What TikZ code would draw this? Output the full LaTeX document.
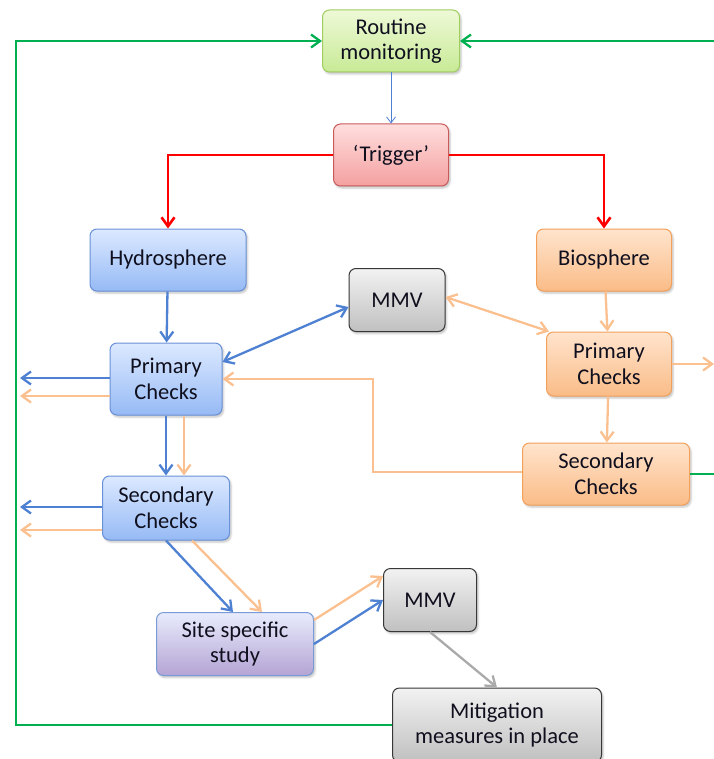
\documentclass[tikz,border=0pt]{standalone}
\usepackage{fontspec}
\setmainfont{Carlito}
\usepackage{xcolor}
\usepackage{tikz}
\usetikzlibrary{positioning, arrows.meta, shadows.blur}

\definecolor{grnTop}{RGB}{238,249,215}
\definecolor{grnBot}{RGB}{200,234,150}
\definecolor{grnLine}{RGB}{160,205,95}
\definecolor{redTop}{RGB}{255,222,222}
\definecolor{redBot}{RGB}{244,160,160}
\definecolor{redLine}{RGB}{200,90,90}
\definecolor{bluTop}{RGB}{220,233,255}
\definecolor{bluBot}{RGB}{150,186,245}
\definecolor{bluLine}{RGB}{105,145,215}
\definecolor{orgTop}{RGB}{255,228,205}
\definecolor{orgBot}{RGB}{250,188,135}
\definecolor{orgLine}{RGB}{242,160,90}
\definecolor{gryTop}{RGB}{242,242,242}
\definecolor{gryBot}{RGB}{192,192,192}
\definecolor{gryLine}{RGB}{55,55,55}
\definecolor{prpTop}{RGB}{232,236,252}
\definecolor{prpBot}{RGB}{180,164,212}
\definecolor{prpLine}{RGB}{120,155,215}
\definecolor{cBlue}{RGB}{79,129,210}
\definecolor{cOrange}{RGB}{250,192,144}
\definecolor{cGreen}{RGB}{0,176,80}
\definecolor{cGrey}{RGB}{170,170,170}
\definecolor{txt}{RGB}{15,15,30}

\begin{document}
\begin{tikzpicture}[x=1pt, y=-1pt,
    box/.style={rounded corners=7pt, draw=#1Line, line width=1pt, top color=#1Top, bottom color=#1Bot,
        align=center, text=txt, font=\fontsize{22.5}{25.5}\selectfont, inner sep=1pt,
        blur shadow={shadow xshift=1.5pt, shadow yshift=-2pt, shadow blur radius=2pt, shadow opacity=25}},
    arr/.style={-{Straight Barb[length=9pt, width=13pt]}, line width=2.3pt, #1},
    darr/.style={{Straight Barb[length=9pt, width=13pt]}-{Straight Barb[length=9pt, width=13pt]}, line width=2.3pt, #1}
]
\useasboundingbox (0,0) rectangle (713,759);

\node[box=grn, minimum width=137pt, minimum height=62pt] (rout) at (391,41) {Routine\\monitoring};
\node[box=red, minimum width=115pt, minimum height=62pt] (trig) at (391,155) {‘Trigger’};
\node[box=blu, minimum width=156pt, minimum height=62pt] (hyd) at (168,260) {Hydrosphere};
\node[box=org, minimum width=135pt, minimum height=62pt] (bio) at (604,260) {Biosphere};
\node[box=gry, minimum width=96pt, minimum height=63pt] (mmvA) at (397,300) {MMV};
\node[box=blu, minimum width=112pt, minimum height=72pt] (pcb) at (166,379) {Primary\\Checks};
\node[box=org, minimum width=125pt, minimum height=64pt] (pco) at (609,364) {Primary\\Checks};
\node[box=org, minimum width=167pt, minimum height=62pt] (sco) at (606,474) {Secondary\\Checks};
\node[box=blu, minimum width=127pt, minimum height=64pt] (scb) at (166,508) {Secondary\\Checks};
\node[box=prp, minimum width=157pt, minimum height=63pt] (site) at (235,644) {Site specific\\study};
\node[box=gry, minimum width=93pt, minimum height=63pt] (mmvB) at (430,600) {MMV};
\node[box=gry, minimum width=209pt, minimum height=74pt] (mit) at (497,725) {Mitigation\\measures in place};

% free ends
\coordinate (gl) at (16,41);
\coordinate (gr) at (722,41);
\coordinate (oj) at (373,379);
\coordinate (po) at (714,364);
\coordinate (lbA) at (20,378);
\coordinate (loA) at (20,396);
\coordinate (lbB) at (20,507);
\coordinate (loB) at (20,530);

% feedback loops
\draw[arr=cGreen] (mit.west) -| (gl) -- (rout.west);
\draw[arr=cGreen] (sco.east) -| (gr) -- (rout.east);

\draw[-{Straight Barb[length=6pt, width=9pt]}, line width=0.8pt, cBlue] (rout) -- (trig);
\draw[arr=red, line width=2.6pt] (trig.west) -| (hyd.north);
\draw[arr=red, line width=2.6pt] (trig.east) -| (bio.north);

% hydrosphere branch
\draw[arr=cBlue] (hyd) -- (pcb);
\draw[darr=cBlue] ([yshift=-7pt]mmvA.west) -- ([yshift=17pt]pcb.east);
\draw[arr=cBlue] ([yshift=1pt]pcb.west) -- (lbA);
\draw[arr=cOrange] ([yshift=-17pt]pcb.west) -- (loA);
\draw[arr=cBlue] (pcb) -- (scb);
\draw[arr=cOrange] ([xshift=18pt]pcb.south) -- ([xshift=18pt]scb.north);
\draw[arr=cBlue] ([yshift=1pt]scb.west) -- (lbB);
\draw[arr=cOrange] ([yshift=-22pt]scb.west) -- (loB);
\draw[arr=cBlue] (scb.south) -- ([xshift=-2pt]site.north);
\draw[arr=cOrange] ([xshift=26pt]scb.south) -- ([xshift=27pt]site.north);
\draw[arr=cOrange] ([yshift=24pt]site.east) -- ([yshift=24pt]mmvB.west);
\draw[arr=cBlue] (site.east) -- (mmvB.west);
\draw[arr=cGrey] (mmvB.south) -- (mit.north);

% biosphere branch
\draw[arr=cOrange] (bio) -- (pco);
\draw[darr=cOrange] ([yshift=3pt]mmvA.east) -- ([xshift=3pt]pco.north west);
\draw[arr=cOrange] (pco.east) -- (po);
\draw[arr=cOrange] (pco) -- (sco);
\draw[arr=cOrange] ([yshift=2pt]sco.west) -| (pcb.east -| oj) -- (pcb.east);

\end{tikzpicture}
\end{document}
